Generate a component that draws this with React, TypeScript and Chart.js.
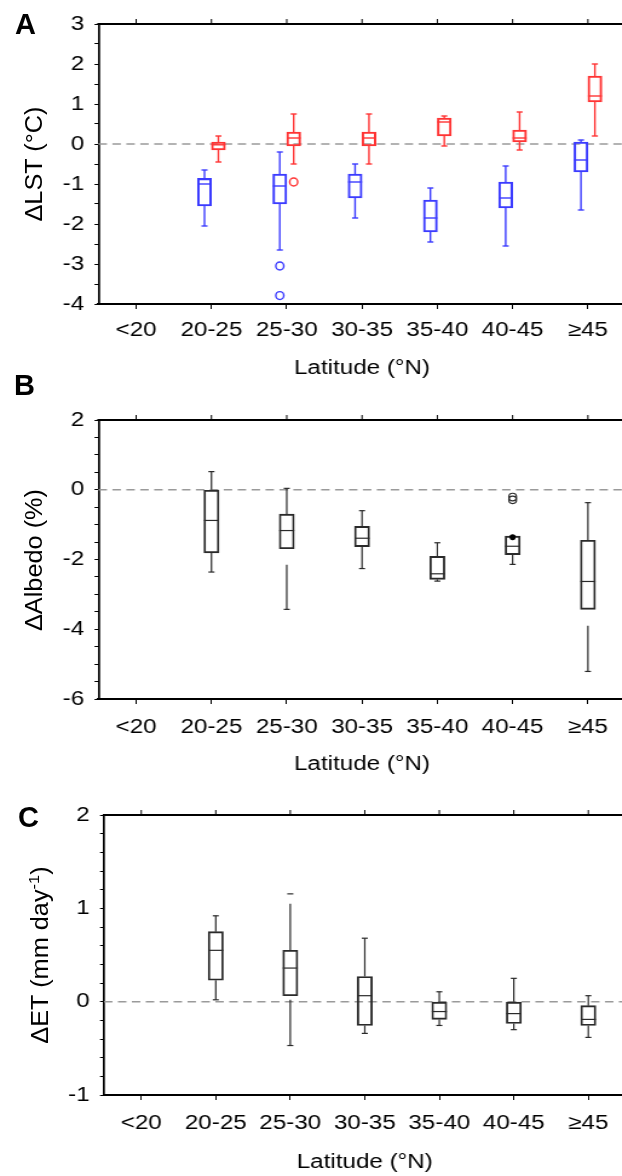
import React, { useEffect, useRef } from 'react';
import { Chart, registerables } from 'chart.js';
Chart.register(...registerables);

const categories = ['<20', '20-25', '25-30', '30-35', '35-40', '40-45', '≥45'];

// Panel A — ΔLST (°C), blue and red series
const lstBlueMin = [null, -2.05, -2.65, -1.85, -2.45, -2.55, -1.65];
const lstBlueQ1 = [null, -1.55, -1.5, -1.35, -2.2, -1.6, -0.7];
const lstBlueMed = [null, -1.0, -1.05, -0.95, -1.85, -1.35, -0.4];
const lstBlueQ3 = [null, -0.86, -0.75, -0.75, -1.4, -0.95, 0.05];
const lstBlueMax = [null, -0.65, -0.2, -0.5, -1.1, -0.55, 0.1];
const lstBlueOutliers = [[], [], [-3.05, -3.79], [], [], [], []];

const lstRedMin = [null, -0.45, -0.5, -0.5, -0.05, -0.15, 0.2];
const lstRedQ1 = [null, -0.15, -0.05, -0.05, 0.2, 0.05, 1.05];
const lstRedMed = [null, -0.02, 0.15, 0.15, 0.55, 0.15, 1.2];
const lstRedQ3 = [null, 0.05, 0.3, 0.3, 0.65, 0.35, 1.7];
const lstRedMax = [null, 0.2, 0.75, 0.75, 0.7, 0.8, 2.0];
const lstRedOutliers = [[], [], [-0.95], [], [], [], []];

// Panel B — ΔAlbedo (%)
const albMin = [null, -2.36, -3.43, -2.26, -2.62, -2.14, -5.21];
const albQ1 = [null, -1.81, -1.69, -1.63, -2.57, -1.86, -3.43];
const albMed = [null, -0.88, -1.17, -1.39, -2.41, -1.62, -2.63];
const albQ3 = [null, 0.0, -0.7, -1.05, -1.91, -1.33, -1.45];
const albMax = [null, 0.52, 0.04, -0.6, -1.52, -1.33, -0.37];
const albLowWhiskerFrom = [null, null, -2.15, null, null, null, -3.9];
const albOutliers = [[], [], [], [], [], [-0.21, -0.29], []];
const albFilled = [[], [], [], [], [], [-1.36], []];

// Panel C — ΔET (mm day-1)
const etMin = [null, 0.02, -0.47, -0.34, -0.255, -0.3, -0.383];
const etQ1 = [null, 0.23, 0.064, -0.255, -0.19, -0.234, -0.255];
const etMed = [null, 0.55, 0.36, 0.064, -0.106, -0.128, -0.19];
const etQ3 = [null, 0.75, 0.55, 0.27, 0.0, 0.0, -0.043];
const etMax = [null, 0.92, 1.155, 0.68, 0.106, 0.25, 0.064];
const etHighWhiskerTo = [null, null, 1.05, null, null, null, null];
const etLowWhiskerFrom = [null, null, 0.02, null, null, null, null];

const BLUE = '#3b3bff';
const RED = '#ff3434';
const DARK = '#2a2a2a';
const FONT = "'Liberation Sans', Arial, sans-serif";
const SX = 1.21; // horizontal stretch of the figure
const CW = Math.round(626 / SX);

type Stats = {
  min: (number | null)[];
  q1: (number | null)[];
  med: (number | null)[];
  q3: (number | null)[];
  max: (number | null)[];
  out?: number[][];
  filled?: number[][];
  lowFrom?: (number | null)[];
  highTo?: (number | null)[];
  color: string;
  lw: number;
  capHalf: number;
  outR: number;
};

function boxDataset(s: Stats, thickness: number) {
  return {
    label: '',
    data: categories.map((_, i) => (s.q1[i] == null ? null : [s.q1[i], s.q3[i]])),
    backgroundColor: 'rgba(0,0,0,0)',
    borderColor: s.color,
    borderWidth: s.lw,
    borderSkipped: false,
    barThickness: thickness,
    stats: s,
  } as any;
}

const boxPlugin = {
  id: 'boxWhisker',
  beforeDatasetsDraw(chart: any) {
    const { ctx, chartArea } = chart;
    const y0 = chart.scales.y.getPixelForValue(0);
    ctx.save();
    ctx.strokeStyle = '#9a9a9a';
    ctx.lineWidth = 1.5;
    ctx.setLineDash([7, 4.5]);
    ctx.beginPath();
    ctx.moveTo(chartArea.left, y0);
    ctx.lineTo(chartArea.right, y0);
    ctx.stroke();
    ctx.restore();
  },
  afterDatasetsDraw(chart: any) {
    const { ctx } = chart;
    const ys = chart.scales.y;
    const py = (v: number) => ys.getPixelForValue(v);
    chart.data.datasets.forEach((ds: any, di: number) => {
      const s: Stats = ds.stats;
      if (!s) return;
      const meta = chart.getDatasetMeta(di);
      meta.data.forEach((el: any, i: number) => {
        if (s.q1[i] == null) return;
        const { x, width } = el.getProps(['x', 'width'], true);
        ctx.save();
        ctx.strokeStyle = s.color;
        ctx.lineWidth = s.lw;
        const line = (x1: number, y1: number, x2: number, y2: number) => {
          ctx.beginPath();
          ctx.moveTo(x1, y1);
          ctx.lineTo(x2, y2);
          ctx.stroke();
        };
        line(x - width / 2, py(s.med[i] as number), x + width / 2, py(s.med[i] as number));
        const top = s.highTo && s.highTo[i] != null ? (s.highTo[i] as number) : (s.max[i] as number);
        line(x, py(s.q3[i] as number), x, py(top));
        line(x - s.capHalf, py(s.max[i] as number), x + s.capHalf, py(s.max[i] as number));
        const lowStart = s.lowFrom && s.lowFrom[i] != null ? (s.lowFrom[i] as number) : (s.q1[i] as number);
        line(x, py(lowStart), x, py(s.min[i] as number));
        line(x - s.capHalf, py(s.min[i] as number), x + s.capHalf, py(s.min[i] as number));
        (s.out ? s.out[i] : []).forEach((v) => {
          ctx.beginPath();
          ctx.ellipse(x, py(v), s.outR / SX, s.outR, 0, 0, Math.PI * 2);
          ctx.stroke();
        });
        (s.filled ? s.filled[i] : []).forEach((v) => {
          ctx.beginPath();
          ctx.fillStyle = '#000';
          ctx.ellipse(x, py(v), 3 / SX, 3, 0, 0, Math.PI * 2);
          ctx.fill();
        });
        ctx.restore();
      });
    });
  },
  afterDraw(chart: any) {
    const { ctx, chartArea } = chart;
    const xs = chart.scales.x;
    ctx.save();
    ctx.strokeStyle = '#000';
    ctx.lineWidth = 2;
    ctx.beginPath();
    ctx.moveTo(chartArea.left - 1, chartArea.top);
    ctx.lineTo(chartArea.right + 5, chartArea.top);
    ctx.stroke();
    ctx.lineWidth = 1;
    xs.ticks.forEach((_: any, i: number) => {
      const x = xs.getPixelForTick(i);
      ctx.beginPath();
      ctx.moveTo(x, chartArea.top);
      ctx.lineTo(x, chartArea.top - 5);
      ctx.stroke();
    });
    ctx.restore();
  },
};

type PanelCfg = {
  datasets: any[];
  min: number;
  max: number;
  step: number;
  labelEvery: number;
  yWidth: number;
  topPad: number;
  xTickPad: number;
  xTitlePad: number;
};

function makeConfig(p: PanelCfg): any {
  return {
    type: 'bar',
    data: { labels: categories, datasets: p.datasets },
    options: {
      animation: false,
      responsive: false,
      maintainAspectRatio: false,
      layout: { padding: { top: p.topPad, left: 0, right: 0, bottom: 0 } },
      plugins: { legend: { display: false }, tooltip: { enabled: false } },
      scales: {
        x: {
          type: 'category',
          offset: true,
          afterFit: (s: any) => {
            s.height = 80;
          },
          grid: { drawOnChartArea: false, drawTicks: true, tickLength: 5, color: '#000', lineWidth: 1, offset: false },
          border: { display: true, color: '#000', width: 2 },
          ticks: {
            color: '#000',
            font: { family: FONT, size: 20 },
            padding: p.xTickPad,
            maxRotation: 0,
            autoSkip: false,
          },
          title: {
            display: true,
            text: 'Latitude (°N)',
            color: '#000',
            font: { family: FONT, size: 20 },
            padding: { top: 0, bottom: p.xTitlePad },
          },
        },
        y: {
          type: 'linear',
          min: p.min,
          max: p.max,
          afterFit: (s: any) => {
            s.width = p.yWidth;
          },
          grid: { drawOnChartArea: false, drawTicks: true, tickLength: 3.3, color: '#000', lineWidth: 1 },
          border: { display: true, color: '#000', width: 1.7 },
          ticks: {
            stepSize: p.step,
            autoSkip: false,
            color: '#000',
            font: { family: FONT, size: 20 },
            padding: 8.5,
            callback: (v: any) => {
              const n = Number(v);
              const r = Math.round(n);
              if (Math.abs(n - r) < 1e-6 && r % p.labelEvery === 0) return String(r);
              return '';
            },
          },
          title: { display: false },
        },
      },
    },
    plugins: [boxPlugin],
  };
}

function Panel({ top, height, cfg }: { top: number; height: number; cfg: PanelCfg }) {
  const ref = useRef<HTMLCanvasElement | null>(null);
  useEffect(() => {
    if (!ref.current) return;
    const chart = new Chart(ref.current, makeConfig(cfg));
    return () => chart.destroy();
  }, []);
  return (
    <canvas
      ref={ref}
      width={CW}
      height={height}
      style={{
        position: 'absolute',
        left: 0,
        top,
        width: CW,
        height,
        transform: `scaleX(${SX})`,
        transformOrigin: '0 0',
      }}
    />
  );
}

const panelA: PanelCfg = {
  datasets: [
    boxDataset(
      { min: lstBlueMin, q1: lstBlueQ1, med: lstBlueMed, q3: lstBlueQ3, max: lstBlueMax, out: lstBlueOutliers, color: BLUE, lw: 1.4, capHalf: 2.5, outR: 4 },
      11.5
    ),
    boxDataset(
      { min: lstRedMin, q1: lstRedQ1, med: lstRedMed, q3: lstRedQ3, max: lstRedMax, out: lstRedOutliers, color: RED, lw: 1.4, capHalf: 2.5, outR: 4 },
      11.5
    ),
  ],
  min: -4,
  max: 3,
  step: 0.5,
  labelEvery: 1,
  yWidth: 98.5 / SX,
  topPad: 24,
  xTickPad: 9,
  xTitlePad: 4,
};

const panelB: PanelCfg = {
  datasets: [
    boxDataset(
      { min: albMin, q1: albQ1, med: albMed, q3: albQ3, max: albMax, lowFrom: albLowWhiskerFrom, out: albOutliers, filled: albFilled, color: DARK, lw: 1.2, capHalf: 2.5, outR: 3.8 },
      12.4
    ),
  ],
  min: -6,
  max: 2,
  step: 0.5,
  labelEvery: 2,
  yWidth: 98.5 / SX,
  topPad: 30,
  xTickPad: 11,
  xTitlePad: 3,
};

const panelC: PanelCfg = {
  datasets: [
    boxDataset(
      { min: etMin, q1: etQ1, med: etMed, q3: etQ3, max: etMax, highTo: etHighWhiskerTo, lowFrom: etLowWhiskerFrom, color: DARK, lw: 1.2, capHalf: 2.5, outR: 3.5 },
      12.4
    ),
  ],
  min: -1,
  max: 2,
  step: 0.2,
  labelEvery: 1,
  yWidth: 104 / SX,
  topPad: 35,
  xTickPad: 11,
  xTitlePad: 1,
};

const letterStyle: React.CSSProperties = {
  position: 'absolute',
  fontFamily: FONT,
  fontWeight: 'bold',
  fontSize: 29,
  lineHeight: '30px',
  color: '#000',
};

function YTitle({ cx, cy, children }: { cx: number; cy: number; children: React.ReactNode }) {
  return (
    <div
      style={{
        position: 'absolute',
        left: cx,
        top: cy,
        fontFamily: FONT,
        fontSize: 23,
        lineHeight: '26px',
        whiteSpace: 'nowrap',
        color: '#000',
        transform: 'translate(-50%, -50%) rotate(-90deg) scaleX(1.1)',
      }}
    >
      {children}
    </div>
  );
}

export default function App() {
  return (
    <div style={{ position: 'absolute', left: 0, top: 0, width: 622, height: 1176, overflow: 'hidden', background: '#fff' }}>
      <Panel top={0} height={384} cfg={panelA} />
      <Panel top={390} height={389} cfg={panelB} />
      <Panel top={780} height={395} cfg={panelC} />
      <div style={{ ...letterStyle, left: 15, top: 9 }}>A</div>
      <div style={{ ...letterStyle, left: 14, top: 370 }}>B</div>
      <div style={{ ...letterStyle, left: 18, top: 802 }}>C</div>
      <YTitle cx={34} cy={164}>ΔLST (°C)</YTitle>
      <YTitle cx={34} cy={560}>ΔAlbedo (%)</YTitle>
      <YTitle cx={40} cy={955}>
        ΔET (mm day<sup style={{ fontSize: 15, lineHeight: 0 }}>-1</sup>)
      </YTitle>
    </div>
  );
}
